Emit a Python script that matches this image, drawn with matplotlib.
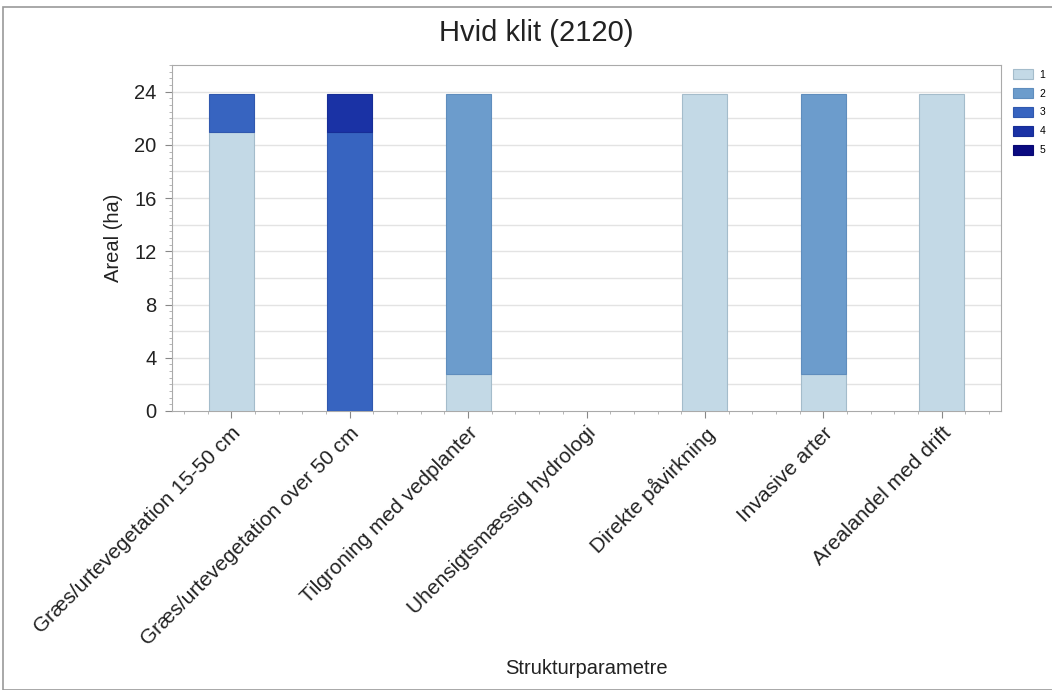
import matplotlib
matplotlib.use("Agg")
import matplotlib.pyplot as plt
from matplotlib.patches import Rectangle
from matplotlib.ticker import MultipleLocator
import numpy as np

plt.rcParams['font.family'] = ['Liberation Sans', 'DejaVu Sans']

categories = ["Græs/urtevegetation 15-50 cm", "Græs/urtevegetation over 50 cm",
              "Tilgroning med vedplanter", "Uhensigtsmæssig hydrologi",
              "Direkte påvirkning", "Invasive arter", "Arealandel med drift"]
series_names = ["1", "2", "3", "4", "5"]
values = {
    "1": [21.0, 0.0, 2.8, 0.0, 23.8, 2.8, 23.8],
    "2": [0.0, 0.0, 21.0, 0.0, 0.0, 21.0, 0.0],
    "3": [2.8, 21.0, 0.0, 0.0, 0.0, 0.0, 0.0],
    "4": [0.0, 2.8, 0.0, 0.0, 0.0, 0.0, 0.0],
    "5": [0.0, 0.0, 0.0, 0.0, 0.0, 0.0, 0.0],
}
colors = ["#c3d9e6", "#6c9ccc", "#3764c0", "#1a32a5", "#0a0a80"]
edges = ["#a4bccb", "#5f8dbd", "#3058ae", "#172d96", "#080872"]

fig = plt.figure(figsize=(10.52, 6.9), dpi=100)
ax = fig.add_axes([172/1052, 1-411/690, (1001-172)/1052, (411-65)/690])

x = np.arange(len(categories))
bottom = np.zeros(len(categories))
handles = []
for name, c, e in zip(series_names, colors, edges):
    v = np.array(values[name])
    m = v > 0
    ax.bar(x[m], v[m], width=0.38, bottom=bottom[m], color=c, edgecolor=e, linewidth=0.8, zorder=3)
    handles.append(Rectangle((0, 0), 1, 1, facecolor=c, edgecolor=e, linewidth=0.8))
    bottom += v

ax.set_xlim(-0.5, len(categories) - 0.5)
ax.set_ylim(0, 26)
ax.yaxis.set_major_locator(MultipleLocator(4))
ax.yaxis.set_minor_locator(MultipleLocator(0.5))
ax.set_xticks(x)
ax.xaxis.set_minor_locator(MultipleLocator(0.2))
ax.set_xticklabels(categories, rotation=45, ha='right', rotation_mode='anchor', fontsize=15, color='#222222')
for yv in np.arange(2, 26, 2):
    ax.axhline(yv, color='#e3e3e3', linewidth=1, zorder=1)
ax.tick_params(axis='y', which='major', labelsize=14.5, colors='#888888', labelcolor='#222222', length=5, direction='out', pad=6)
ax.tick_params(axis='y', which='minor', length=2.5, colors='#aaaaaa')
ax.tick_params(axis='x', which='major', length=5, colors='#888888', labelcolor='#222222', pad=4)
ax.tick_params(axis='x', which='minor', length=2.5, colors='#aaaaaa')
for s in ax.spines.values():
    s.set_color('#aaaaaa')

ax.set_ylabel("Areal (ha)", fontsize=14.5, color='#222222', labelpad=8)
ax.set_xlabel("Strukturparametre", fontsize=14.5, color='#222222')
ax.xaxis.set_label_coords(0.5, -(668-411)/346)
ax.xaxis.label.set_va('center')

fig.text(0.51, 1-33/690, "Hvid klit (2120)", ha='center', va='center', fontsize=21, color='#222222')

leg = ax.legend(handles=handles, labels=series_names, loc='upper left', bbox_to_anchor=(1.01, 1.0),
                frameon=False, fontsize=7.5, handlelength=1.9, handleheight=1.1, labelspacing=0.8,
                borderaxespad=0, handletextpad=0.6, borderpad=0.4)

fig.patches.append(Rectangle((3/1052, 0.0), 1.5, 1-7/690, transform=fig.transFigure,
                             fill=False, edgecolor='#999999', linewidth=1.2))

fig.savefig("out.png", dpi=100)
